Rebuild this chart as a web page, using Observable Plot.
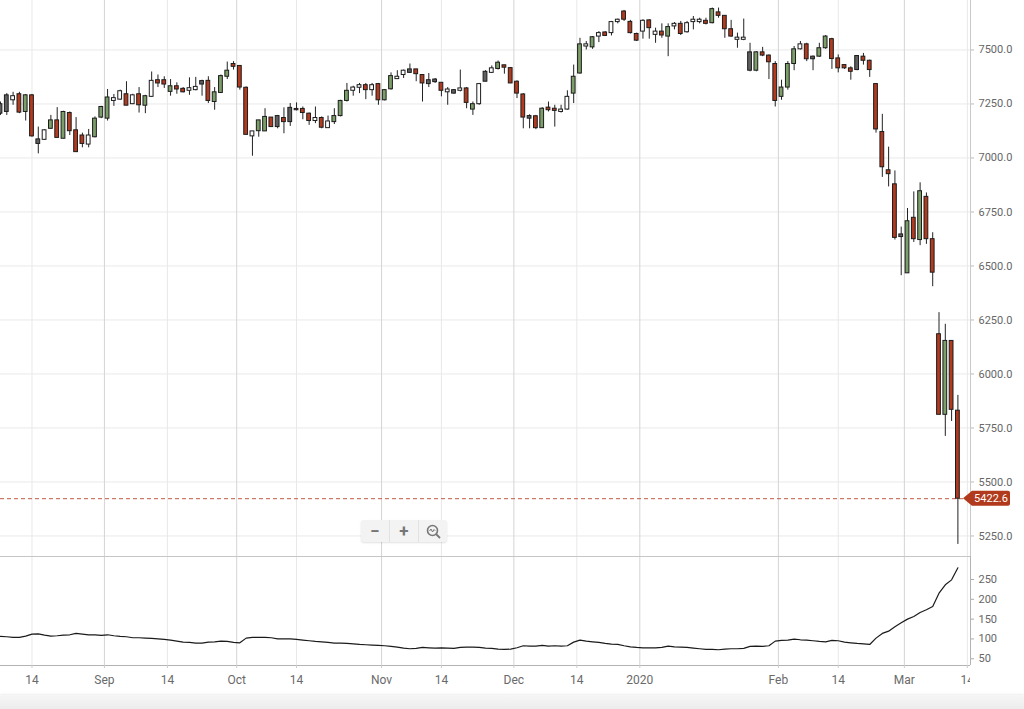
<!DOCTYPE html>
<html><head><meta charset="utf-8">
<script src="https://cdn.jsdelivr.net/npm/d3@7"></script>
<script src="https://cdn.jsdelivr.net/npm/@observablehq/plot@0.6"></script>
<style>
html,body{margin:0;padding:0;background:#fff;}
#wrap{position:relative;width:1024px;height:709px;overflow:hidden;font-family:Roboto,sans-serif;}
#wrap svg{display:block;}
#band{position:absolute;left:0;top:695px;width:1024px;height:14px;background:linear-gradient(#f6f6f6,#ececec);box-shadow:0 -1px 2px rgba(0,0,0,0.07);}
#zoomctl{position:absolute;left:361px;top:520px;width:86px;height:22px;background:#f3f3f3;border-radius:3px;box-shadow:0 1px 2px rgba(0,0,0,.12);display:flex;}
#zoomctl div{flex:1;display:flex;align-items:center;justify-content:center;color:#777;font-size:17px;font-weight:bold;border-right:1px solid #e2e2e2;line-height:1;}
#zoomctl div:last-child{border-right:none;}
</style></head><body><div id="wrap"></div>
<script>
// ---- data (daily candles, 7 Aug 2019 – 12 Mar 2020) ----
const firstDay = "2019-08-07";
const holidays = ["2019-08-26","2019-12-25","2019-12-26","2020-01-01"];
const opens = [7249,7290,7267,7295,7213,7290,7086,7084,7135,7174,7089,7208,7128,7104,7062,7096,7187,7182,7264,7270,
7295,7249,7295,7242,7283,7360,7360,7306,7332,7320,7311,7314,7356,7357,7259,7301,7376,7435,7426,7325,
7100,7124,7123,7187,7194,7185,7232,7227,7227,7205,7171,7185,7138,7166,7194,7264,7311,7325,7337,7314,
7342,7267,7318,7365,7384,7410,7410,7384,7360,7363,7348,7304,7314,7311,7322,7224,7249,7399,7394,7412,
7429,7416,7353,7294,7194,7193,7138,7233,7228,7213,7224,7298,7391,7516,7512,7562,7581,7578,7629,7678,
7630,7574,7585,7637,7570,7585,7562,7609,7621,7582,7629,7629,7635,7624,7674,7658,7596,7547,7547,7489,
7404,7489,7474,7435,7283,7326,7435,7503,7526,7469,7469,7508,7550,7461,7430,7415,7472,7469,7450,7342,
7120,6943,6878,6646,6466,6723,6620,6820,6624,6184,5811,6153,5830];
const highs = [7259,7298,7304,7304,7294,7294,7143,7131,7197,7233,7216,7213,7187,7115,7132,7190,7239,7317,7294,7314,
7353,7295,7326,7290,7398,7384,7376,7363,7348,7326,7371,7373,7360,7376,7326,7384,7444,7446,7426,7329,
7123,7174,7228,7187,7197,7232,7252,7255,7236,7208,7236,7190,7194,7228,7267,7345,7332,7345,7345,7345,
7345,7317,7394,7404,7407,7435,7410,7384,7391,7368,7348,7326,7317,7407,7326,7259,7345,7404,7426,7449,
7429,7419,7357,7298,7200,7197,7233,7259,7244,7244,7311,7430,7554,7539,7562,7585,7585,7632,7643,7683,
7637,7578,7640,7640,7601,7621,7621,7627,7632,7632,7655,7647,7647,7694,7694,7658,7637,7578,7643,7531,
7492,7512,7477,7446,7360,7446,7516,7539,7531,7472,7531,7567,7554,7477,7430,7422,7472,7484,7453,7345,
7202,7050,6940,6680,6766,6843,6885,6838,6654,6284,6230,6153,5901];
const lows = [7197,7197,7244,7205,7171,7096,7019,7081,7132,7093,7089,7104,7027,7047,7047,7093,7182,7171,7239,7267,
7242,7247,7208,7205,7280,7326,7322,7286,7295,7301,7290,7311,7286,7252,7221,7298,7363,7407,7314,7107,
7008,7096,7123,7143,7135,7112,7146,7218,7177,7151,7159,7135,7138,7155,7190,7259,7286,7298,7270,7286,
7244,7264,7314,7363,7368,7391,7353,7259,7326,7345,7283,7244,7295,7306,7228,7197,7244,7353,7391,7407,
7388,7345,7275,7135,7135,7131,7138,7213,7143,7208,7221,7252,7388,7500,7503,7534,7562,7565,7621,7632,
7574,7539,7550,7550,7531,7554,7469,7593,7567,7578,7593,7621,7616,7621,7647,7554,7559,7508,7543,7399,
7399,7469,7363,7236,7267,7314,7404,7500,7446,7404,7466,7503,7410,7394,7410,7360,7404,7430,7373,7115,
6910,6866,6620,6455,6466,6609,6594,6600,6404,5811,5711,5780,5211];
const closes = [7205,7213,7286,7210,7290,7100,7065,7128,7174,7093,7213,7124,7027,7065,7104,7182,7236,7280,7277,7309,
7242,7290,7244,7286,7357,7345,7340,7332,7317,7304,7323,7329,7340,7264,7304,7379,7404,7422,7326,7107,
7123,7174,7190,7143,7143,7166,7166,7221,7208,7171,7185,7140,7169,7194,7264,7311,7326,7337,7314,7337,
7267,7314,7379,7376,7404,7394,7388,7345,7342,7351,7311,7317,7298,7322,7255,7249,7342,7353,7415,7441,
7418,7345,7298,7187,7182,7138,7228,7221,7218,7224,7283,7376,7526,7526,7559,7578,7565,7629,7640,7640,
7578,7543,7635,7601,7585,7567,7606,7621,7574,7624,7640,7640,7621,7689,7658,7596,7562,7557,7557,7404,
7489,7474,7443,7264,7326,7435,7503,7526,7457,7457,7508,7562,7458,7415,7415,7399,7407,7450,7407,7132,
6957,6925,6630,6634,6707,6624,6846,6624,6469,5811,6153,5834,5422.6];
// impulse state shown by the body colour: 1 bullish, -1 bearish, 0 neutral
const impulse = [0,0,0,-1,1,-1,0,0,1,-1,1,-1,-1,-1,0,1,1,1,0,0,
-1,0,-1,1,0,-1,-1,1,-1,-1,0,0,0,-1,1,1,1,-1,-1,-1,
0,1,1,-1,0,-1,0,0,-1,-1,0,-1,0,1,1,1,0,0,-1,0,
-1,1,1,0,0,0,-1,-1,0,0,-1,0,0,0,-1,1,0,0,0,1,
-1,-1,-1,-1,0,-1,1,-1,-1,0,0,1,1,0,1,0,-1,0,0,-1,
-1,-1,0,-1,0,-1,1,0,-1,0,0,0,-1,1,-1,-1,-1,0,0,0,
1,-1,-1,-1,1,1,1,0,-1,0,1,1,-1,-1,-1,-1,0,-1,-1,-1,
-1,-1,-1,0,1,-1,1,-1,-1,-1,1,-1,-1];
// lower panel indicator
const indicator = [106.3,105.5,103.8,103.8,107.1,112.2,113,109.7,107.1,108,
109.7,110.5,113.9,112.2,110.5,110.5,108.8,110.5,108,106.3,
105.5,103,103,102.1,101.3,100.4,98.7,97.1,94.5,92,
91.2,89.5,89.5,92,92.8,94.5,93.7,91.2,90.3,102.1,
103.8,103.8,103.8,103,100.4,100.4,100.4,98.7,97.1,95.4,
93.7,92.8,91.2,89.5,89.5,88.7,87.8,86.1,85.3,84.4,
83.6,82.8,81.1,79.4,76.9,75.2,76.1,78.6,77.7,76.9,
77.7,76.9,76.1,78.6,79.4,79.4,78.6,76.9,76.1,74.4,
73.5,74.4,77.7,82.8,81.9,81.9,83.6,81.9,82.8,81.9,
82.8,92,97.1,94.5,92.8,91.2,88.7,87,86.1,82.8,
80.2,78.6,77.7,77.7,77.7,78.6,81.9,80.2,79.4,78.6,
76.9,75.2,73.5,73.5,72.7,74.4,75.2,75.2,76.1,81.1,
81.9,81.1,82.8,94.5,96.2,97.1,99.6,97.9,97.1,95.4,
93.7,92.8,96.2,95.4,92,90.3,88.7,87.8,86.1,102.1,
113.9,119.7,130.7,140.7,150,156.7,166.8,173.5,181.9,215.5,
236.5,249.1,279.4];
const priceTicks = [5250,5500,5750,6000,6250,6500,6750,7000,7250,7500];
const indicatorTicks = [50,100,150,200,250];
const tickStamps = ["2019-08-14T12:00","2019-09-01","2019-09-14T12:00","2019-10-01","2019-10-14T12:00","2019-11-01","2019-11-14T12:00","2019-12-01","2019-12-14T12:00","2020-01-01","2020-02-01","2020-02-14T12:00","2020-03-01","2020-03-14T12:00"];
const tickLabels = ["14","Sep","14","Oct","14","Nov","14","Dec","14","2020","Feb","14","Mar","14"];
const priceDomain = [5155, 7729];
const indicatorDomain = [33, 308];

// ---- trading-day time axis (weekends & holidays collapsed) ----
const calendar = [];
for (let t = Date.parse(firstDay + "T00:00Z"); calendar.length < closes.length + 6; t += 864e5) {
  const d = new Date(t), wd = d.getUTCDay(), iso = d.toISOString().slice(0, 10);
  if (wd === 0 || wd === 6 || holidays.includes(iso)) continue;
  calendar.push(iso);
}
function position(stamp) {
  const t = Date.parse(stamp.length > 10 ? stamp + "Z" : stamp + "T00:00Z");
  const iso = new Date(t).toISOString().slice(0, 10);
  const frac = (t - Date.parse(iso + "T00:00Z")) / 864e5;
  const k = calendar.indexOf(iso);
  if (k >= 0) return k - 0.5 + frac;
  return calendar.findIndex(d => d > iso) - 0.5;
}
const ticks = tickStamps.map((s, j) => ({pos: position(s), label: tickLabels[j], minor: /^\d{1,2}$/.test(tickLabels[j])}));
const labelAt = new Map(ticks.map(t => [t.pos, t.label]));
const majorTicks = ticks.filter(t => !t.minor), minorTicks = ticks.filter(t => t.minor);

const candles = closes.map((c, i) => ({i, o: opens[i], h: highs[i], l: lows[i], c, s: impulse[i]}));
const tone = d => d.s > 0 ? "#7c9f69" : d.s < 0 ? "#b23a1e" : (d.c >= d.o ? "#ffffff" : "#5f5f5f");
const xDomain = [0, closes.length + 1];
const last = closes[closes.length - 1];
const baseStyle = {fontFamily: "Roboto, sans-serif", fontSize: "11px", color: "#666", background: "transparent"};

const main = Plot.plot({
  width: 1024, height: 556, marginTop: 0, marginBottom: 0, marginLeft: 0, marginRight: 54,
  x: {domain: xDomain, axis: null},
  y: {domain: priceDomain, axis: null},
  style: baseStyle,
  marks: [
    Plot.gridY(priceTicks, {stroke: "#e9e9e9", strokeOpacity: 1}),
    Plot.ruleX(minorTicks, {x: "pos", stroke: "#e8e8e8"}),
    Plot.ruleX(majorTicks, {x: "pos", stroke: "#d4d4d4"}),
    Plot.ruleX([xDomain[1]], {stroke: "#c9c9c9"}),
    Plot.axisY(priceTicks, {anchor: "right", label: null, tickSize: 3, tickPadding: 5, tickFormat: d => d.toFixed(1), stroke: "#bbb", fill: "#666"}),
    Plot.ruleY([last], {stroke: "#c25a42", strokeDasharray: "4,3"}),
    Plot.ruleX(candles, {x: "i", y1: "l", y2: "h", stroke: "#222"}),
    Plot.rect(candles, {x1: d => d.i - 0.3, x2: d => d.i + 0.3, y1: "o", y2: "c", fill: tone, stroke: "#1c1c1c", strokeWidth: 1})
  ]
});

// last-price tag, placed through the plot's own scales
{
  const yy = main.scale("y").apply(last), xr = main.scale("x").range[1];
  const s = d3.select(main);
  s.append("path")
    .attr("d", `M${xr - 7},${yy} L${xr + 2},${yy - 7.5} H${xr + 38} Q${xr + 40},${yy - 7.5} ${xr + 40},${yy - 5.5} V${yy + 5.5} Q${xr + 40},${yy + 7.5} ${xr + 38},${yy + 7.5} H${xr + 2} Z`)
    .attr("fill", "#b1391c");
  s.append("text").attr("x", xr + 21).attr("y", yy).attr("dy", "0.35em")
    .attr("text-anchor", "middle").attr("fill", "#fff")
    .attr("font-family", "Roboto, sans-serif").attr("font-size", 11)
    .text(last.toFixed(1));
}

const lower = Plot.plot({
  width: 1024, height: 139, marginTop: 0, marginBottom: 30, marginLeft: 0, marginRight: 54,
  x: {domain: xDomain, axis: null},
  y: {domain: indicatorDomain, axis: null},
  style: baseStyle,
  marks: [
    Plot.ruleX(minorTicks, {x: "pos", stroke: "#e8e8e8"}),
    Plot.ruleX(majorTicks, {x: "pos", stroke: "#d4d4d4"}),
    Plot.ruleY([indicatorDomain[1]], {stroke: "#c6c6c6"}),
    Plot.ruleY([indicatorDomain[0]], {stroke: "#b3b3b3"}),
    Plot.ruleX([xDomain[1]], {stroke: "#b3b3b3"}),
    Plot.axisY(indicatorTicks, {anchor: "right", label: null, tickSize: 3, tickPadding: 5, stroke: "#aaa", fill: "#666"}),
    Plot.axisX(ticks.map(t => t.pos), {anchor: "bottom", label: null, tickSize: 3, tickPadding: 7, tickFormat: p => labelAt.get(p), stroke: "#ccc", fill: "#6a6a6a", fontSize: 12}),
    Plot.line(indicator.map((v, i) => ({i, v})), {x: "i", y: "v", stroke: "#1a1a1a", strokeWidth: 1.2})
  ]
});

const wrap = document.getElementById("wrap");
wrap.appendChild(main);
wrap.appendChild(lower);

// date labels are cut at the right edge of the plotting area, as in the reference:
// move their group into a nested viewport that ends at the x range
{
  const xr = lower.scale("x").range[1];
  const ns = "http://www.w3.org/2000/svg";
  const port = document.createElementNS(ns, "svg");
  port.setAttribute("x", 0); port.setAttribute("y", 0);
  port.setAttribute("width", xr); port.setAttribute("height", 139);
  port.setAttribute("overflow", "hidden");
  port.style.overflow = "hidden";
  const groups = new Set();
  lower.querySelectorAll("text").forEach(t => { if (tickLabels.includes(t.textContent.trim())) groups.add(t.parentNode); });
  lower.appendChild(port);
  groups.forEach(g => port.appendChild(g));
}

const band = document.createElement("div"); band.id = "band"; wrap.appendChild(band);
const ctl = document.createElement("div"); ctl.id = "zoomctl";
ctl.innerHTML = `<div>−</div><div>+</div><div><svg width="15" height="15" viewBox="0 0 15 15"><circle cx="6.5" cy="6.5" r="5" fill="none" stroke="#777" stroke-width="1.6"/><line x1="10" y1="10" x2="14" y2="14" stroke="#777" stroke-width="1.8"/><path d="M3.5,7 L5,5 L6.5,8 L8,5.5 L9.3,6.8" fill="none" stroke="#777" stroke-width="1"/></svg></div>`;
wrap.appendChild(ctl);
</script></body></html>
